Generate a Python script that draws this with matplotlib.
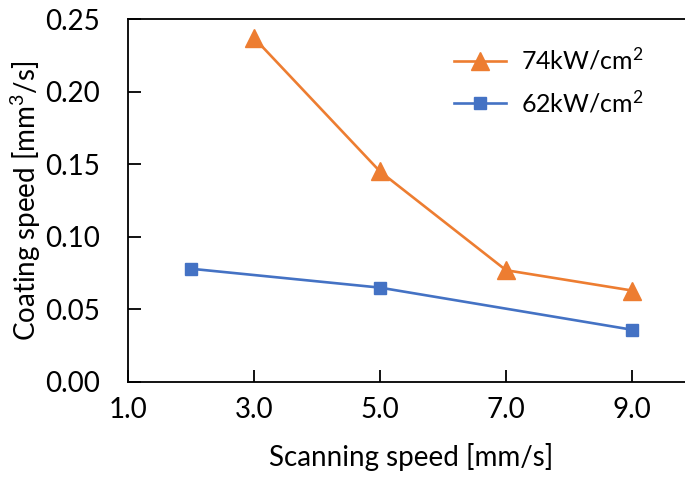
import matplotlib
matplotlib.use("Agg")
import matplotlib.pyplot as plt

# data
speed_74 = [3.0, 5.0, 7.0, 9.0]
coat_74 = [0.237, 0.145, 0.077, 0.063]
speed_62 = [2.0, 5.0, 9.0]
coat_62 = [0.078, 0.065, 0.036]
xticks = [1.0, 3.0, 5.0, 7.0, 9.0]
yticks = [0.00, 0.05, 0.10, 0.15, 0.20, 0.25]

plt.rcParams['font.family'] = ['Lato', 'DejaVu Sans']
plt.rcParams['mathtext.fontset'] = 'custom'
plt.rcParams['mathtext.rm'] = 'Lato'
plt.rcParams['mathtext.it'] = 'Lato'
plt.rcParams['mathtext.default'] = 'regular'

W, H = 685, 480
fig = plt.figure(figsize=(W / 100, H / 100), dpi=100)
# plot area runs past the right edge of the picture, as in the reference
x0, x1, y0, y1 = 128, 695, 382, 19
ax = fig.add_axes([x0 / W, 1 - y0 / H, (x1 - x0) / W, (y0 - y1) / H])

ax.plot(speed_74, coat_74, color="#ED7D31", lw=1.9, marker="^", ms=13,
        label="74kW/cm$^2$")
ax.plot(speed_62, coat_62, color="#4472C4", lw=1.9, marker="s", ms=9,
        label="62kW/cm$^2$")

ax.set_xlim(1, 10)
ax.set_ylim(0, 0.25)
ax.set_xticks(xticks)
ax.set_xticklabels(["%.1f" % v for v in xticks])
ax.set_yticks(yticks)
ax.set_yticklabels(["%.2f" % v for v in yticks])
ax.tick_params(direction="in", length=9, width=1.3, labelsize=20, color="black")
ax.tick_params(axis="y", pad=20)
ax.tick_params(axis="x", pad=11)
for s in ["left", "top", "bottom"]:
    ax.spines[s].set_linewidth(1.3)
ax.spines["right"].set_visible(False)

ax.set_xlabel("Scanning speed [mm/s]", fontsize=20, labelpad=14)
ax.set_ylabel("Coating speed [mm$^3$/s]", fontsize=20, labelpad=2)

ax.legend(loc="upper left", bbox_to_anchor=(0.535, 0.985), frameon=False,
          fontsize=18, handlelength=2.1, labelspacing=0.65, handletextpad=0.6)

fig.savefig("out.png", dpi=100)
